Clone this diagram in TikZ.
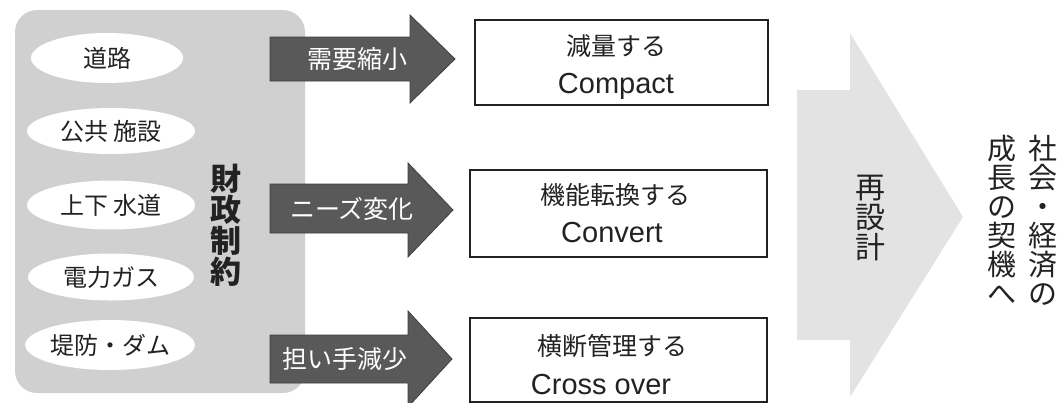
\documentclass[tikz,border=0pt]{standalone}
\usepackage{fontspec}
\setmainfont{Noto Sans CJK JP}
\newfontfamily\lat{Liberation Sans}
\usetikzlibrary{shapes.geometric}
\definecolor{panelgray}{HTML}{D0D0D0}
\definecolor{darrow}{HTML}{595959}
\definecolor{chevgray}{HTML}{E3E3E3}
\definecolor{ink}{HTML}{222222}
\tikzset{
  panelbox/.style={fill=panelgray, rounded corners=22pt, inner sep=0pt},
  ellnode/.style={ellipse, fill=white, inner sep=0pt, text=ink, font=\fontsize{24}{24}\selectfont},
  whitebox/.style={draw=ink, line width=1.6pt, fill=white, inner sep=0pt},
  boxjp/.style={text=ink, inner sep=0pt, font=\fontsize{25}{25}\selectfont},
  boxen/.style={text=ink, inner sep=0pt, anchor=base, font=\lat\fontsize{29}{29}\selectfont},
  darrowfill/.style={fill=darrow, draw=darrow!70!black, line width=0.8pt},
  arrowtext/.style={text=white, inner sep=0pt, font=\fontsize{25}{25}\selectfont},
  vtext/.style={text=ink, align=center, inner sep=0pt}
}
\begin{document}
\begin{tikzpicture}[x=1pt,y=-1pt]
\useasboundingbox (0,0) rectangle (1062,402);
% left panel
\node[panelbox, minimum width=290pt, minimum height=383pt] (panel) at (160,201.5) {};
% ellipses
\node[ellnode, minimum width=152pt, minimum height=50pt] (e1) at (107,58) {道路};
\node[ellnode, minimum width=168pt, minimum height=46pt] (e2) at (111,131) {公共 施設};
\node[ellnode, minimum width=168pt, minimum height=49pt] (e3) at (111,205) {上下 水道};
\node[ellnode, minimum width=166pt, minimum height=47pt] (e4) at (111,277) {電力ガス};
\node[ellnode, minimum width=168pt, minimum height=50pt] (e5) at (110,345) {堤防・ダム};
% vertical label
\node[vtext, font=\bfseries\fontsize{31}{31}\selectfont] (fin) at (226,225) {財\\政\\制\\約};
% dark arrows
\fill[darrowfill] (270,37) -- (410,37) -- (410,15) -- (455,59) -- (410,103) -- (410,81) -- (270,81) -- cycle;
\node[arrowtext] (a1) at (357,59) {需要縮小};
\fill[darrowfill] (270,184) -- (408,184) -- (408,163) -- (453,210) -- (408,257) -- (408,233) -- (270,233) -- cycle;
\node[arrowtext] (a2) at (352,209) {ニーズ変化};
\fill[darrowfill] (270,335) -- (408,335) -- (408,311) -- (452,359) -- (408,407) -- (408,383) -- (270,383) -- cycle;
\node[arrowtext] (a3) at (345,359) {担い手減少};
% white boxes
\node[whitebox, minimum width=293pt, minimum height=85pt] (b1) at (621.5,62.5) {};
\node[boxjp] (b1j) at (616,46) {減量する};
\node[boxen] (b1e) at (616,93) {Compact};
\node[whitebox, minimum width=297pt, minimum height=87pt] (b2) at (618.5,213.5) {};
\node[boxjp] (b2j) at (615,195) {機能転換する};
\node[boxen] (b2e) at (612,242) {Convert};
\node[whitebox, minimum width=297pt, minimum height=84pt] (b3) at (618.5,360) {};
\node[boxjp] (b3j) at (612,346) {横断管理する};
\node[boxen] (b3e) at (601,394) {Cross over};
% big light chevron
\fill[chevgray] (797,90) -- (850,90) -- (850,33) -- (963,217) -- (850,397) -- (850,340) -- (797,340) -- cycle;
\node[vtext, font=\fontsize{30}{30}\selectfont] (redesign) at (870,218) {再\\設\\計};
% right vertical text (right column read first)
\node[vtext, font=\fontsize{29}{29}\selectfont] (r1) at (1043,220) {社\\会\\・\\経\\済\\の};
\node[vtext, font=\fontsize{29}{29}\selectfont] (r2) at (1002,220) {成\\長\\の\\契\\機\\へ};
\end{tikzpicture}
\end{document}
